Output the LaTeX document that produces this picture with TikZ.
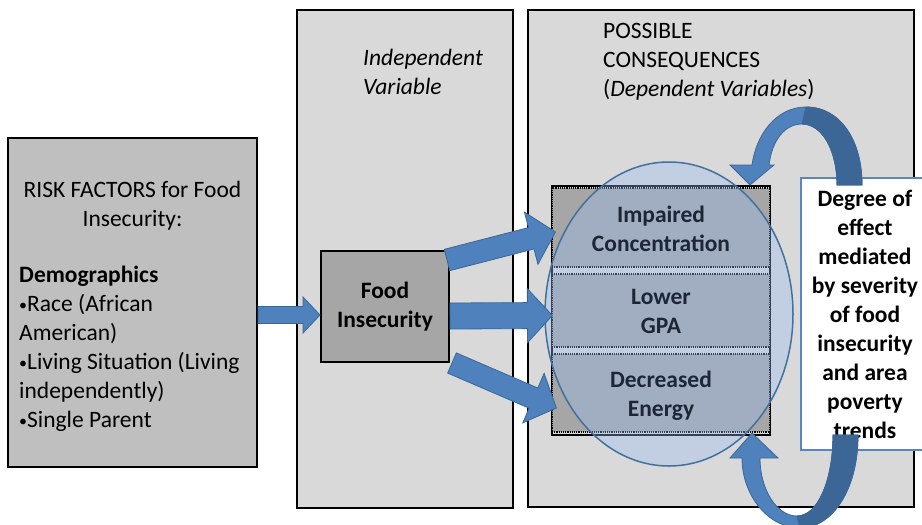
\documentclass[tikz,border=0pt]{standalone}
\usepackage{fontspec}
\setmainfont{Carlito}
\usepackage{tikz}
\usetikzlibrary{positioning,calc}

\definecolor{panelgray}{HTML}{D9D9D9}
\definecolor{riskgray}{HTML}{BFBFBF}
\definecolor{boxgray}{HTML}{A6A6A6}
\definecolor{arrowblue}{HTML}{4F81BD}
\definecolor{arrowdark}{HTML}{3C6696}
\definecolor{arrowedge}{HTML}{3A679A}
\definecolor{ovalblue}{HTML}{98BCF2}
\definecolor{ovaledge}{HTML}{41719C}
\definecolor{noteedge}{HTML}{5B85BF}
\definecolor{outcometext}{HTML}{1C2636}

\newcommand{\labelfont}{\fontsize{23.5}{29}\selectfont}
\newcommand{\bul}{\raisebox{1.5pt}{\fontsize{16}{16}\selectfont•}}

% block arrow: from, to, half shaft, half head, head length
\newcommand{\blockarrow}[5]{%
  \coordinate (ba-base) at ($(#2)!#5!(#1)$);
  \filldraw[fill=arrowblue, draw=arrowedge, line width=0.8pt]
    ($(#1)!#3!90:(#2)$) -- ($(ba-base)!#3!-90:(#1)$) -- ($(ba-base)!#4!-90:(#1)$)
    -- (#2) -- ($(ba-base)!#4!90:(#1)$) -- ($(ba-base)!#3!90:(#1)$)
    -- ($(#1)!#3!-90:(#2)$) -- cycle;
}

\begin{document}
\begin{tikzpicture}[x=1pt, y=-1pt,
    every node/.style={font=\labelfont, inner sep=0pt},
    panel/.style={draw=black, line width=2pt, fill=panelgray},
    databox/.style={draw=black, line width=2pt, fill=boxgray},
    outcome/.style={draw=black, densely dotted, line width=1.2pt, fill=boxgray,
      minimum width=218pt},
    outcomelabel/.style={align=center, text=outcometext, font=\labelfont\bfseries},
    notebox/.style={draw=noteedge, line width=2pt, fill=white, align=center,
      font=\labelfont\bfseries}]
    \useasboundingbox (0,0) rectangle (922,525);
    \clip (0,0) rectangle (922,525);

    % Risk factors
    \node[draw=black, line width=2pt, fill=riskgray, minimum width=249pt,
      minimum height=329pt] (risk) at (132.5,302.5) {};
    \node[align=center] (risk-title) at (132.5,206) {RISK FACTORS for Food\\Insecurity:};
    \node[align=left, anchor=west] (risk-list) at (19,349)
      {\textbf{Demographics}\\\bul Race (African\\American)\\\bul Living Situation (Living\\independently)\\\bul Single Parent};

    % Independent variable
    \node[panel, minimum width=216pt, minimum height=498pt] (iv-panel) at (405,259) {};
    \node[align=left, anchor=west, font=\labelfont\itshape] (iv-title) at (363,72) {Independent\\Variable};

    % Dependent variables
    \node[panel, minimum width=386pt, minimum height=497pt] (dv-panel) at (721,258.5) {};
    \node[align=left, anchor=west] (dv-title) at (603,62)
      {POSSIBLE\\CONSEQUENCES\\(\textit{Dependent Variables})};

    % Food insecurity
    \node[databox, minimum width=128pt, minimum height=111pt, align=center,
      font=\labelfont\bfseries] (food) at (385,306.5) {Food\\Insecurity};

    % Outcomes
    \node[draw=black, line width=2pt, fill=panelgray, minimum width=218pt,
      minimum height=249pt] (outcomes) at (661,310.5) {};
    \node[outcome, minimum height=79pt] (impaired) at (661,227.5) {};
    \node[outcome, minimum height=73pt] (gpa) at (661,310.5) {};
    \node[outcome, minimum height=78pt] (energy) at (661,393) {};

    % Oval
    \fill[ovalblue, fill opacity=0.35] (669,314) ellipse [x radius=124pt, y radius=152pt];
    \draw[ovaledge, line width=1.5pt] (669,314) ellipse [x radius=124pt, y radius=152pt];

    \node[outcomelabel] (impaired-text) at ($(impaired)+(0,1)$) {Impaired\\Concentration};
    \node[outcomelabel] (gpa-text) at ($(gpa)+(0,1)$) {Lower\\GPA};
    \node[outcomelabel] (energy-text) at ($(energy)+(0,3)$) {Decreased\\Energy};

    % Mediator
    \node[notebox, minimum width=128pt, minimum height=272pt] (degree) at (865,314)
      {Degree of\\effect\\mediated\\by severity\\of food\\insecurity\\and area\\poverty\\trends};

    % Straight arrows
    \coordinate (risk-out) at ($(risk.east)+(0,12.5)$);
    \coordinate (food-in) at ($(food.west)+(0,8.5)$);
    \blockarrow{risk-out}{food-in}{8.5pt}{18pt}{17pt}
    \coordinate (fi-top) at ($(food.north east)+(-3,10)$);
    \coordinate (ic-in) at ($(impaired.west)+(4,4.5)$);
    \blockarrow{fi-top}{ic-in}{11pt}{27pt}{25pt}
    \coordinate (fi-mid) at ($(food.east)+(0,9.5)$);
    \coordinate (gpa-in) at ($(gpa.west)+(1,5)$);
    \blockarrow{fi-mid}{gpa-in}{13pt}{27pt}{25pt}
    \coordinate (fi-low) at ($(food.south east)+(2,0)$);
    \coordinate (de-in) at ($(energy.west)+(5,15)$);
    \blockarrow{fi-low}{de-in}{11pt}{27pt}{25pt}

    % Curved arrow, top
    \filldraw[fill=arrowblue, draw=arrowedge, line width=0.8pt]
      (862,185) .. controls (862,140) and (840,107) .. (806,107)
      .. controls (776,107) and (756,135) .. (752,165)
      -- (730,165) -- (750,185) -- (774,165) -- (769,165)
      .. controls (772,140) and (785,124) .. (802,124)
      .. controls (822,124) and (837,150) .. (837,185) -- cycle;
    \filldraw[fill=arrowdark, draw=arrowedge, line width=0.8pt]
      (806,107) .. controls (840,107) and (862,140) .. (862,185)
      -- (837,185) .. controls (837,150) and (822,124) .. (802,124) -- cycle;

    % Curved arrow, bottom
    \filldraw[fill=arrowblue, draw=arrowedge, line width=0.8pt]
      (858,435) .. controls (858,490) and (832,528) .. (800,528)
      .. controls (768,528) and (742,495) .. (742,458)
      -- (730,458) -- (752,433) -- (778,458) -- (760,458)
      .. controls (760,490) and (777,516) .. (797,516)
      .. controls (818,516) and (833,480) .. (833,435) -- cycle;
    \filldraw[fill=arrowdark, draw=arrowedge, line width=0.8pt]
      (800,528) .. controls (832,528) and (858,490) .. (858,435)
      -- (833,435) .. controls (833,480) and (818,516) .. (797,516) -- cycle;
\end{tikzpicture}
\end{document}
